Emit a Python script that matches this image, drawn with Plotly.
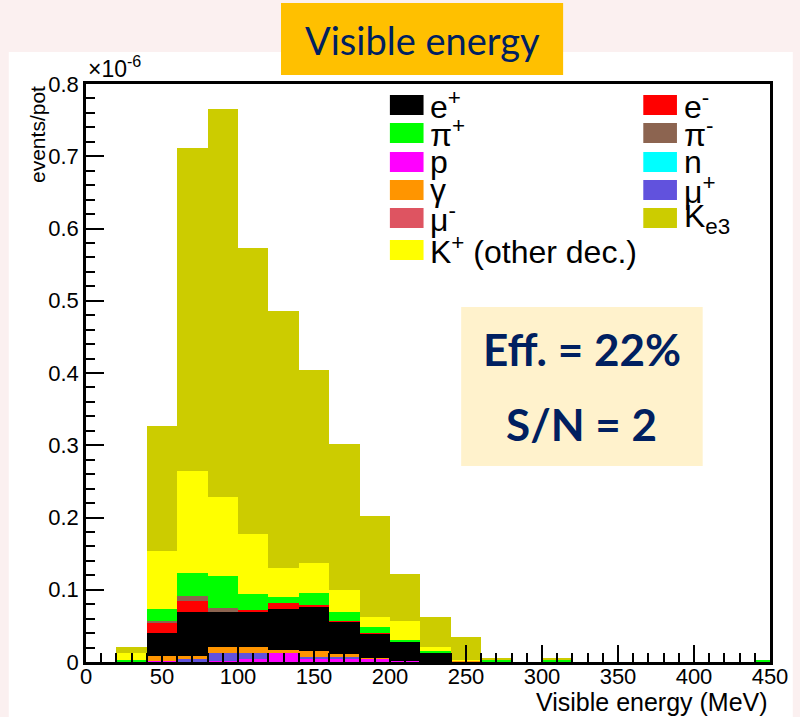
import plotly.graph_objects as go

# bin centres (MeV), 20 MeV wide bins from 20 to 460
bin_centers = [30, 50, 70, 90, 110, 130, 150, 170, 190, 210, 230,
               250, 270, 290, 310, 330, 350, 370, 390, 410, 430, 450]
bin_width = 20

# stacked contributions, events/pot in units of 1e-6 (bottom of stack first)
p_vals = [0, 0.0015, 0.001, 0.002, 0.0042, 0.012, 0.0042, 0.0042, 0.0042, 0.0018, 0,
          0, 0, 0, 0, 0, 0, 0, 0, 0, 0, 0]
mup_vals = [0, 0, 0.0027, 0.0105, 0.0078, 0, 0.0031, 0.0031, 0, 0, 0,
            0, 0, 0, 0, 0, 0, 0, 0, 0, 0, 0]
gamma_vals = [0, 0.0064, 0.0042, 0.0083, 0.0088, 0.0042, 0.0079, 0.0034, 0.0009, 0, 0,
              0.0015, 0, 0, 0, 0, 0, 0, 0, 0, 0, 0]
ep_vals = [0, 0.0318, 0.0617, 0.0488, 0.0488, 0.0572, 0.0609, 0.0451, 0.0346, 0.0263, 0.0138,
           0, 0, 0, 0, 0, 0, 0, 0, 0, 0, 0]
em_vals = [0, 0.0139, 0.0152, 0, 0.0024, 0.0078, 0.0028, 0.0014, 0.0005, 0, 0,
           0, 0, 0, 0, 0, 0, 0, 0, 0, 0, 0]
mum_vals = [0, 0, 0, 0, 0, 0, 0, 0, 0, 0, 0,
            0, 0, 0, 0, 0, 0, 0, 0, 0, 0, 0]
pim_vals = [0, 0.0036, 0.0065, 0.0047, 0, 0, 0, 0, 0, 0, 0,
            0, 0, 0, 0, 0, 0, 0, 0, 0, 0, 0]
pip_vals = [0.003, 0.0162, 0.0319, 0.0451, 0.0221, 0.0092, 0.0166, 0.0116, 0.0087, 0.0028, 0.0018,
            0, 0.0025, 0, 0.0025, 0, 0, 0, 0, 0, 0, 0.002]
n_vals = [0, 0, 0, 0, 0, 0, 0, 0, 0, 0, 0,
          0, 0, 0, 0, 0, 0, 0, 0, 0, 0, 0]
kother_vals = [0.0099, 0.0802, 0.1416, 0.109, 0.0831, 0.0401, 0.0419, 0.0309, 0.013, 0.0258, 0.0047,
               0.0015, 0, 0, 0, 0, 0, 0, 0, 0, 0, 0]
ke3_vals = [0.0074, 0.1734, 0.4462, 0.5366, 0.3958, 0.3555, 0.2666, 0.2023, 0.1401, 0.0653, 0.0416,
            0.0312, 0.003, 0, 0.003, 0, 0, 0, 0, 0, 0, 0]

names = {
    "p": "p", "mup": "μ<sup>+</sup>", "gamma": "γ", "ep": "e<sup>+</sup>",
    "em": "e<sup>-</sup>", "mum": "μ<sup>-</sup>", "pim": "π<sup>-</sup>",
    "pip": "π<sup>+</sup>", "n": "n", "kother": "K<sup>+</sup> (other dec.)",
    "ke3": "K<sub>e3</sub>",
}
colors = {
    "p": "#FF00FF", "mup": "#6152DD", "gamma": "#FF9500", "ep": "#000000",
    "em": "#FF0000", "mum": "#DE5461", "pim": "#8C6450", "pip": "#00FF00",
    "n": "#00FFFF", "kother": "#FFFF00", "ke3": "#CCCC00",
}
stack = [("p", p_vals), ("mup", mup_vals), ("gamma", gamma_vals), ("ep", ep_vals),
         ("em", em_vals), ("mum", mum_vals), ("pim", pim_vals), ("pip", pip_vals),
         ("n", n_vals), ("kother", kother_vals), ("ke3", ke3_vals)]

legend_left = ["ep", "pip", "p", "gamma", "mum", "kother"]
legend_right = ["em", "pim", "n", "mup", "ke3"]

# plot area in pixels
L, R, T, B = 86, 777, 84, 662
W, H = 800, 717


def px(x):
    return (x - L) / (R - L)


def py(y):
    return (B - y) / (B - T)


fig = go.Figure()
for key, vals in stack:
    fig.add_trace(go.Bar(x=bin_centers, y=vals, width=bin_width, name=names[key],
                         marker=dict(color=colors[key], line=dict(width=0))))

shapes = []
annotations = []


def label(text, x, y, size, family="Liberation Sans", color="black", xa="center", ya="middle", **kw):
    annotations.append(dict(text=text, xref="paper", yref="paper", x=px(x), y=py(y),
                            xanchor=xa, yanchor=ya, showarrow=False,
                            font=dict(family=family, size=size, color=color), **kw))


# slide background panel
shapes.append(dict(type="rect", xref="paper", yref="paper", layer="below",
                   x0=px(8), x1=px(800), y0=py(717), y1=py(52),
                   fillcolor="white", line=dict(width=0)))
# title box
shapes.append(dict(type="rect", xref="paper", yref="paper",
                   x0=px(283), x1=px(568), y0=py(75), y1=py(3),
                   fillcolor="#FFC000", line=dict(width=0)))
label("Visible energy", 425.5, 40, 38, family="Lato", color="#002060")
# efficiency box
shapes.append(dict(type="rect", xref="paper", yref="paper",
                   x0=px(465), x1=px(709), y0=py(466), y1=py(307),
                   fillcolor="#FFF2CC", line=dict(width=0)))
label("<b>Eff. = 22%</b>", 587, 349, 44, family="Lato", color="#002060")
label("<b>S/N = 2</b>", 587, 424, 44, family="Lato", color="#002060")

# legend drawn by hand (two columns, large swatches like ROOT)
row_y = [105, 133, 162, 190, 218, 250]
for col_keys, sx in [(legend_left, 393), (legend_right, 649)]:
    for key, yc in zip(col_keys, row_y):
        shapes.append(dict(type="rect", xref="paper", yref="paper",
                           x0=px(sx), x1=px(sx + 34), y0=py(yc + 10), y1=py(yc - 10),
                           fillcolor=colors[key], line=dict(width=0)))
        label(names[key], sx + 39, yc, 32, xa="left")

# axis texts
label("Visible energy (MeV)", R, 702, 25, xa="right")
label("events/pot", 37, T, 21, ya="top", textangle=-90)
label("×10<sup>-6</sup>", L, T, 23, xa="left", ya="bottom")

fig.update_layout(
    width=W, height=H,
    margin=dict(l=L, r=W - R, t=T, b=H - B, pad=0),
    paper_bgcolor="#FBF0F0", plot_bgcolor="white",
    barmode="stack", bargap=0, showlegend=False,
    font=dict(family="Liberation Sans", size=22, color="black"),
    shapes=shapes, annotations=annotations,
)
fig.update_xaxes(range=[0, 450], dtick=50, tick0=0, showgrid=False, zeroline=False,
                 showline=True, linecolor="black", linewidth=2.5, mirror=True,
                 ticks="inside", ticklen=17, tickwidth=2, tickcolor="black", ticklabelstandoff=-7,
                 minor=dict(dtick=10, ticks="inside", ticklen=9, tickwidth=2, tickcolor="black"))
fig.update_yaxes(range=[0, 0.8], dtick=0.1, tick0=0, showgrid=False, zeroline=False,
                 showline=True, linecolor="black", linewidth=2.5, mirror=True,
                 ticks="inside", ticklen=18, tickwidth=2, tickcolor="black",
                 minor=dict(dtick=0.02, ticks="inside", ticklen=9, tickwidth=2, tickcolor="black"))

fig.write_html("out.html", config={"displayModeBar": False},
               post_script="document.body.style.margin='0';")
